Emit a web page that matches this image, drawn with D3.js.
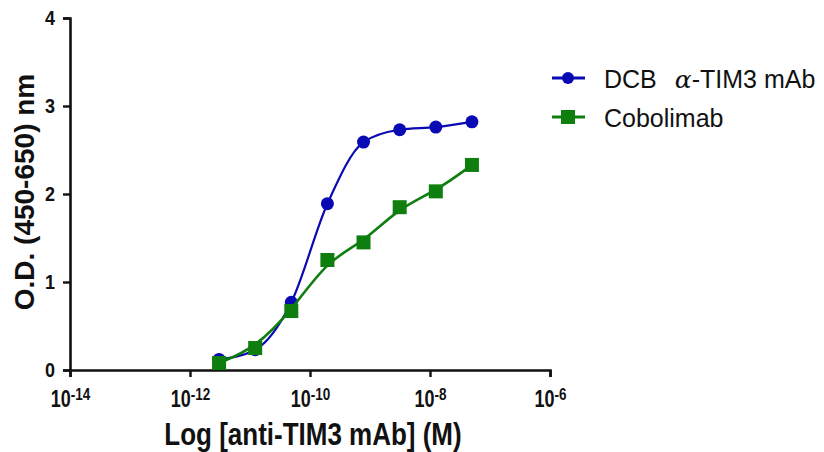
<!DOCTYPE html>
<html>
<head>
<meta charset="utf-8">
<script src="https://cdn.jsdelivr.net/npm/d3@7"></script>
<style>
  body { margin: 0; background: #fff; }
  svg { display: block; font-family: "Liberation Sans", Arial, sans-serif; }
</style>
</head>
<body>
<svg id="chart" width="824" height="452"></svg>
<script>
// concentrations (M), 4-fold dilution series
const conc = [3.05e-12, 1.22e-11, 4.88e-11, 1.95e-10, 7.8e-10, 3.125e-9, 1.25e-8, 5e-8];
const dcbOD = [0.12, 0.23, 0.77, 1.89, 2.59, 2.73, 2.76, 2.82];
const coboOD = [0.08, 0.25, 0.67, 1.25, 1.45, 1.85, 2.03, 2.33];
const xTickExp = [-14, -12, -10, -8, -6];
const yTicks = [0, 1, 2, 3, 4];
const seriesNames = ["DCB", "Cobolimab"];

const blue = "#0a0ab4";
const green = "#0e7f0e";

const svg = d3.select("#chart");

const x = d3.scaleLog().domain([1e-14, 1e-6]).range([70, 550]);
const y = d3.scaleLinear().domain([0, 4]).range([370, 18]);

// axes
const yAxis = svg.append("g")
  .attr("transform", "translate(70,0)")
  .call(d3.axisLeft(y).tickValues(yTicks).tickSize(7).tickFormat(""));
const xAxis = svg.append("g")
  .attr("transform", "translate(0,370)")
  .call(d3.axisBottom(x).tickValues(xTickExp.map(e => Math.pow(10, e))).tickSize(7).tickFormat(""));

[yAxis, xAxis].forEach(a => {
  a.select(".domain").attr("stroke", "#111").attr("stroke-width", 2.6);
  a.selectAll(".tick line").attr("stroke", "#111").attr("stroke-width", 2.4);
});

// y tick labels, slightly tall like the original
yAxis.selectAll(".tick").append("text")
  .attr("transform", "translate(-15,6) scale(1,1.15)")
  .attr("text-anchor", "end")
  .attr("font-size", 18).attr("font-weight", "bold").attr("fill", "#111")
  .text(d => d);

// x tick labels with superscripts
xAxis.selectAll(".tick").each(function(d) {
  const t = d3.select(this).append("text")
    .attr("transform", "translate(0,37) scale(1,1.28)")
    .attr("text-anchor", "middle")
    .attr("font-size", 18).attr("font-weight", "bold").attr("fill", "#111");
  t.append("tspan").text("10");
  t.append("tspan").attr("font-size", 13.5).attr("dy", -5.5).text(Math.round(Math.log10(d)));
});

// axis titles
svg.append("text")
  .attr("transform", "translate(34,192) rotate(-90)")
  .attr("text-anchor", "middle")
  .attr("font-size", 28).attr("font-weight", "bold").attr("fill", "#111")
  .text("O.D. (450-650) nm");
svg.append("text")
  .attr("transform", "translate(313,445) scale(1,1.2)")
  .attr("text-anchor", "middle")
  .attr("font-size", 26).attr("font-weight", "bold").attr("fill", "#111")
  .text("Log [anti-TIM3 mAb] (M)");

// curves
const dcb = conc.map((c, i) => [c, dcbOD[i]]);
const cobo = conc.map((c, i) => [c, coboOD[i]]);

const lineMono = d3.line().x(d => x(d[0])).y(d => y(d[1])).curve(d3.curveMonotoneX);
const lineBasis = d3.line().x(d => x(d[0])).y(d => y(d[1])).curve(d3.curveBasis);

svg.append("path").datum(dcb)
  .attr("d", lineMono).attr("fill", "none").attr("stroke", blue).attr("stroke-width", 2.2);
svg.append("g").selectAll("circle").data(dcb).join("circle")
  .attr("cx", d => x(d[0])).attr("cy", d => y(d[1])).attr("r", 6.5).attr("fill", blue);

svg.append("path").datum(cobo)
  .attr("d", lineBasis).attr("fill", "none").attr("stroke", green).attr("stroke-width", 2.6);
svg.append("g").selectAll("rect").data(cobo).join("rect")
  .attr("x", d => x(d[0]) - 7).attr("y", d => y(d[1]) - 7)
  .attr("width", 14).attr("height", 14).attr("fill", green);

// legend
const leg = svg.append("g");
const rows = [
  { name: seriesNames[0], color: blue, shape: "circle", y: 78 },
  { name: seriesNames[1], color: green, shape: "square", y: 117 }
];
rows.forEach(r => {
  leg.append("line").attr("x1", 552).attr("x2", 585).attr("y1", r.y).attr("y2", r.y)
    .attr("stroke", r.color).attr("stroke-width", 3);
  if (r.shape === "circle") {
    leg.append("circle").attr("cx", 568).attr("cy", r.y).attr("r", 6).attr("fill", r.color);
  } else {
    leg.append("rect").attr("x", 561).attr("y", r.y - 7).attr("width", 14).attr("height", 14).attr("fill", r.color);
  }
  const t = leg.append("text").attr("x", 604).attr("y", r.y + 10)
    .attr("font-size", 25).attr("fill", "#111");
  t.append("tspan").text(r.name);
  if (r.shape === "circle") {
    t.append("tspan").attr("dx", 18).attr("font-family", "'DejaVu Serif', serif").attr("font-style", "italic").text("α");
    t.append("tspan").text("-TIM3 mAb");
  }
});
</script>
</body>
</html>
